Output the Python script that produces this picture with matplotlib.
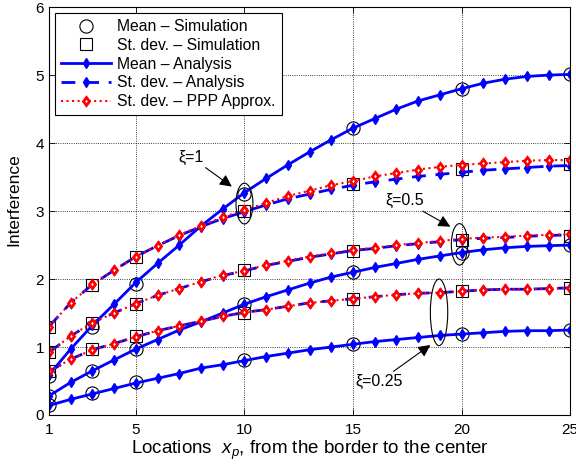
import matplotlib
matplotlib.use("Agg")
import matplotlib.pyplot as plt
from matplotlib.patches import Ellipse

plt.rcParams['font.family'] = ['Liberation Sans', 'DejaVu Sans']
plt.rcParams['mathtext.fontset'] = 'custom'
plt.rcParams['mathtext.rm'] = 'Liberation Sans'
plt.rcParams['mathtext.it'] = 'Liberation Sans:italic'

# locations along the line
locations = [1, 2, 3, 4, 5, 6, 7, 8, 9, 10, 11, 12, 13,
             14, 15, 16, 17, 18, 19, 20, 21, 22, 23, 24, 25]
sim_locations = [1, 3, 5, 10, 15, 20, 25]

# analysis - mean
mean_1 = [0.59, 0.97, 1.32, 1.63, 1.95, 2.23, 2.50, 2.78, 3.03, 3.27, 3.48, 3.68, 3.87,
          4.05, 4.22, 4.36, 4.50, 4.62, 4.71, 4.80, 4.88, 4.94, 4.98, 5.00, 5.01]
mean_05 = [0.28, 0.48, 0.65, 0.81, 0.97, 1.11, 1.25, 1.37, 1.50, 1.63, 1.74, 1.84, 1.94,
           2.03, 2.10, 2.17, 2.23, 2.29, 2.34, 2.39, 2.43, 2.46, 2.48, 2.49, 2.50]
mean_025 = [0.14, 0.23, 0.31, 0.39, 0.47, 0.54, 0.61, 0.69, 0.74, 0.80, 0.86, 0.91, 0.96,
            1.00, 1.04, 1.08, 1.11, 1.14, 1.17, 1.19, 1.21, 1.23, 1.24, 1.24, 1.25]

# analysis - st. dev.
std_1 = [1.30, 1.65, 1.92, 2.13, 2.33, 2.49, 2.64, 2.77, 2.89, 2.99, 3.09, 3.18, 3.25,
         3.32, 3.38, 3.43, 3.47, 3.51, 3.54, 3.57, 3.60, 3.62, 3.64, 3.66, 3.67]
std_05 = [0.92, 1.16, 1.36, 1.50, 1.64, 1.76, 1.86, 1.96, 2.05, 2.12, 2.20, 2.26, 2.32,
          2.37, 2.42, 2.45, 2.49, 2.52, 2.55, 2.58, 2.60, 2.61, 2.63, 2.64, 2.65]
std_025 = [0.64, 0.82, 0.96, 1.05, 1.15, 1.24, 1.31, 1.38, 1.45, 1.51, 1.55, 1.60, 1.65,
           1.68, 1.71, 1.74, 1.77, 1.79, 1.80, 1.82, 1.84, 1.85, 1.85, 1.86, 1.87]

# PPP approximation - st. dev.
ppp_1 = [1.30, 1.65, 1.92, 2.13, 2.33, 2.49, 2.65, 2.78, 2.91, 3.01, 3.12, 3.22, 3.30,
         3.38, 3.44, 3.51, 3.56, 3.61, 3.65, 3.68, 3.70, 3.72, 3.74, 3.75, 3.75]
ppp_05 = [0.92, 1.16, 1.36, 1.50, 1.64, 1.76, 1.86, 1.96, 2.06, 2.12, 2.21, 2.27, 2.33,
          2.38, 2.43, 2.46, 2.50, 2.53, 2.56, 2.59, 2.61, 2.62, 2.64, 2.65, 2.66]
ppp_025 = [0.64, 0.82, 0.96, 1.05, 1.15, 1.24, 1.31, 1.38, 1.45, 1.51, 1.55, 1.60, 1.65,
           1.68, 1.71, 1.74, 1.77, 1.79, 1.80, 1.82, 1.84, 1.85, 1.85, 1.86, 1.87]

# simulation
sim_mean_1 = [0.57, 1.30, 1.93, 3.25, 4.22, 4.80, 5.01]
sim_mean_05 = [0.28, 0.65, 0.97, 1.63, 2.10, 2.39, 2.50]
sim_mean_025 = [0.14, 0.32, 0.48, 0.81, 1.04, 1.19, 1.25]
sim_std_1 = [1.30, 1.91, 2.33, 3.00, 3.40, 3.62, 3.69]
sim_std_05 = [0.92, 1.36, 1.64, 2.13, 2.41, 2.58, 2.64]
sim_std_025 = [0.65, 0.97, 1.16, 1.50, 1.70, 1.82, 1.87]

fig = plt.figure(figsize=(5.76, 4.74), dpi=100)
ax = fig.add_axes([0.085, 0.1245, 0.905, 0.8605])

blue = (0, 0, 1)
red = (1, 0, 0)

circ = dict(marker='o', ls='none', mfc='none', mec='k', ms=9.5, mew=0.8)
sq = dict(marker='s', ls='none', mfc='none', mec='k', ms=9, mew=0.8)
solid = dict(ls='-', color=blue, lw=2, marker='d', ms=5.5, mfc=blue, mec=blue)
dash = dict(ls='--', color=blue, lw=2, dashes=(5, 3.5), marker='d', ms=5.5,
            mfc=blue, mec=blue)
dot = dict(ls=':', color=red, lw=1.5, marker='d', ms=4.5, mfc='w', mec=red, mew=2)

for m in [sim_mean_1, sim_mean_05, sim_mean_025]:
    ax.plot(sim_locations, m, **circ)
for s in [sim_std_1, sim_std_05, sim_std_025]:
    ax.plot(sim_locations, s, **sq)
for m in [mean_1, mean_05, mean_025]:
    ax.plot(locations, m, **solid)
for s in [std_1, std_05, std_025]:
    ax.plot(locations, s, **dash)
for p in [ppp_1, ppp_05, ppp_025]:
    ax.plot(locations, p, **dot)

# legend proxies
handles = [ax.plot([], [], **st)[0] for st in [circ, sq, solid, dash, dot]]
leg = ax.legend(handles,
                ['Mean \u2013 Simulation', 'St. dev. \u2013 Simulation',
                 'Mean \u2013 Analysis', 'St. dev. \u2013 Analysis',
                 'St. dev. \u2013 PPP Approx.'],
                loc='upper left', bbox_to_anchor=(0.0115, 0.985), borderaxespad=0,
                fontsize=11.3, handlelength=3.2, labelspacing=0.24, handletextpad=0.4,
                borderpad=0.38, fancybox=False, framealpha=1, edgecolor='k')
leg.get_frame().set_linewidth(0.8)

# ellipses and annotations
for cx, cy, w, h in [(10, 3.11, 0.78, 0.60), (19.9, 2.51, 0.75, 0.61),
                     (18.96, 1.51, 0.80, 0.98)]:
    ax.add_patch(Ellipse((cx, cy), w, h, fill=False, ec='k', lw=0.8, zorder=5))

arrow = dict(arrowstyle='-|>', color='k', lw=0.8, mutation_scale=18,
             shrinkA=0, shrinkB=0)
ax.annotate('\u03be=1', xy=(9.42, 3.36), xytext=(7.55, 3.79), fontsize=11.5,
            ha='center', va='center', arrowprops=arrow)
ax.annotate('\u03be=0.5', xy=(19.48, 2.77), xytext=(17.36, 3.15), fontsize=11.5,
            ha='center', va='center', arrowprops=arrow)
ax.annotate('\u03be=0.25', xy=(18.56, 1.03), xytext=(16.2, 0.49), fontsize=11.5,
            ha='center', va='center', arrowprops=arrow)

ax.set_xlim(1, 25)
ax.set_ylim(0, 6)
ax.set_xticks([1, 5, 10, 15, 20, 25])
ax.set_yticks([0, 1, 2, 3, 4, 5, 6])
ax.tick_params(direction='in', top=True, right=True, labelsize=11, length=4, width=0.6)
ax.tick_params(axis='x', pad=6)
ax.grid(True, ls=':', color='k', lw=0.6)
for sp in ax.spines.values():
    sp.set_linewidth(0.8)

ax.set_xlabel(r'Locations  $x_p$, from the border to the center', fontsize=13.5, labelpad=1)
ax.set_ylabel('Interference', fontsize=12.5, labelpad=4)
ax.yaxis.set_label_coords(-0.052, 0.527)

fig.savefig('out.png', dpi=100)
